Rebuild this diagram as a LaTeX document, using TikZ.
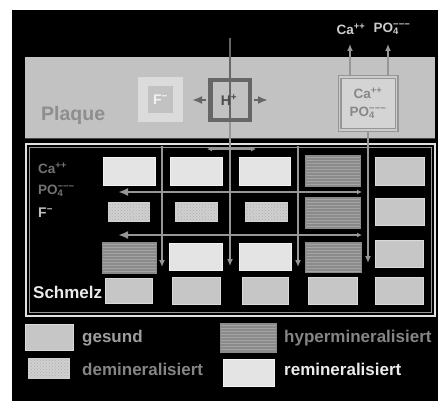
\documentclass[tikz,border=0pt]{standalone}
\usepackage{fontspec}
\setmainfont{Liberation Sans}
\usetikzlibrary{patterns,arrows.meta}
\definecolor{cP}{HTML}{C2C2C2}
\definecolor{cG}{HTML}{C6C6C6}
\definecolor{cGe}{HTML}{DADADA}
\definecolor{cR}{HTML}{E4E4E4}
\definecolor{cRe}{HTML}{F2F2F2}
\definecolor{cH}{HTML}{8A8A8A}
\definecolor{cHl}{HTML}{A4A4A4}
\definecolor{cD}{HTML}{D0D0D0}
\definecolor{cDl}{HTML}{ADADAD}
\definecolor{cL}{HTML}{969696}
\definecolor{cDk}{HTML}{666666}
\definecolor{cTx}{HTML}{888888}
\tikzset{
  blk/.style={inner sep=0pt, line width=0.9pt},
  gesund/.style={blk, fill=cG, draw=cGe},
  remin/.style={blk, fill=cR, draw=cRe},
  hyper/.style={blk, draw=cH, preaction={fill=cH}, pattern=horizontal lines, pattern color=cHl},
  demin/.style={blk, draw=cD, preaction={fill=cD}, pattern=crosshatch dots, pattern color=cDl},
  gline/.style={draw=cL, line width=2.6pt},
  downtip/.style={-{Latex[length=7pt,width=6pt]}},
  lefttip/.style={{Latex[length=10pt,width=8pt]}-{Latex[length=5pt,width=5pt]}},
  lbl/.style={font=\bfseries\fontsize{17}{17}\selectfont, inner sep=0pt, anchor=west},
  ion/.style={font=\bfseries\fontsize{13.5}{14}\selectfont, inner sep=0pt},
}
\begin{document}
\begin{tikzpicture}[x=1pt,y=-1pt]
\useasboundingbox (0,0) rectangle (438,401);
\fill[white] (0,0) rectangle (438,401);
\fill[black] (12,10) rectangle (438,401);

% Plaque
\fill[cP] (25,57) rectangle (435,138);
\draw[cDk!70!black, line width=1pt] (25,138) -- (435,138);
\node[font=\bfseries\fontsize{19.5}{19.5}\selectfont, text=cTx!95!white, inner sep=0pt, anchor=west] (plaquelbl) at (41,115) {Plaque};

% Schmelz frame
\draw[white!88!black, line width=2.2pt] (26,144) rectangle (435,316);
\draw[cL, line width=0.8pt] (29.5,147.5) rectangle (431.5,312.5);

% F- box
\node[fill=white!86!black, minimum size=45pt, inner sep=0pt] (fbox) at (160.5,99.5) {};
\node[fill=white!76!black, minimum width=25pt, minimum height=26pt, inner sep=0pt, text=white!95!black, font=\bfseries\fontsize{14}{14}\selectfont] (finner) at (160.5,99.5) {F\textsuperscript{−}};

% H+ box
\node[draw=cDk, line width=4.5pt, fill=white!76!black, minimum size=39.5pt, inner sep=0pt] (hbox) at (230,100) {};
\coordinate (htop) at (230,38);
\coordinate (hbot) at (230,266);
\draw[cDk, line width=2.2pt] (htop) -- (hbox.north);
\coordinate (hl) at (192,100);
\coordinate (hr) at (268,100);
\draw[cDk, line width=2.6pt, -{Latex[length=10pt,width=8pt]}] ([xshift=-2pt]hbox.west) -- (hl);
\draw[cDk, line width=2.6pt, -{Latex[length=10pt,width=8pt]}] ([xshift=2pt]hbox.east) -- (hr);

% Right box
\node[draw=cL, double=white!80!black, double distance=1.6pt, line width=1.2pt, fill=white!83!black, minimum width=57pt, minimum height=53pt, inner sep=0pt, align=center, text=cTx, font=\bfseries\fontsize{13.5}{18}\selectfont] (rbox) at (368,103.5) {Ca\textsuperscript{++}\\PO\rlap{\textsubscript{4}}\textsuperscript{−−−}};
\coordinate (ca1) at (350,44);
\coordinate (po1) at (388,44);
\draw[gline, line width=1.8pt, -{Latex[length=7pt,width=6pt]}] (rbox.north -| ca1) -- (ca1);
\draw[gline, line width=1.8pt, -{Latex[length=7pt,width=6pt]}] (rbox.north -| po1) -- (po1);
\node[ion, text=white!80!black] (catop) at (351,29) {Ca\textsuperscript{++}};
\node[ion, text=white!80!black] (potop) at (392,29) {PO\rlap{\textsubscript{4}}\textsuperscript{−−−}};

% Grid lines in Schmelz
\coordinate (v1t) at (162,146); \coordinate (v1b) at (162,267);
\coordinate (v3t) at (298,146); \coordinate (v3b) at (298,267);
\coordinate (v4b) at (368,263);
\draw[gline, downtip] (v1t) -- (v1b);
\draw[gline, downtip] (v3t) -- (v3b);
\draw[gline, downtip] (rbox.south) -- (v4b);
\draw[gline, downtip] (hbox.south) -- (hbot);
\draw[cDk, line width=2.2pt] (hbox.north) -- (hbox.south);
\node[font=\bfseries\fontsize{14}{14}\selectfont, text=white!30!black, inner sep=0pt] (hlbl) at (229,100) {H\textsuperscript{+}};
\coordinate (a1l) at (118,192); \coordinate (a1r) at (362,192);
\coordinate (a2l) at (118,235); \coordinate (a2r) at (362,235);
\draw[gline, lefttip] (a1l) -- (a1r);
\draw[gline, lefttip] (a2l) -- (a2r);
\coordinate (hs) at (230,149);
\coordinate (hsl) at (207,149);
\coordinate (hsr) at (256,149);
\draw[cL, line width=1.4pt, -{Latex[length=5pt,width=5pt]}] (hs) -- (hsl);
\draw[cL, line width=1.4pt, -{Latex[length=5pt,width=5pt]}] (hs) -- (hsr);

% Blocks row 1
\node[remin, minimum width=52pt, minimum height=28pt] (r1c1) at (129,171) {};
\node[remin, minimum width=52pt, minimum height=28pt] (r1c2) at (196,171) {};
\node[remin, minimum width=51pt, minimum height=28pt] (r1c3) at (264.5,171) {};
\node[hyper, minimum width=55pt, minimum height=31pt] (r1c4) at (332.5,171) {};
\node[gesund, minimum width=49pt, minimum height=28pt] (r1c5) at (399.5,171) {};
% row 2
\node[demin, minimum width=41pt, minimum height=19pt] (r2c1) at (128.5,211.5) {};
\node[demin, minimum width=42pt, minimum height=19pt] (r2c2) at (196,211.5) {};
\node[demin, minimum width=42pt, minimum height=19pt] (r2c3) at (266,211.5) {};
\node[hyper, minimum width=55pt, minimum height=31pt] (r2c4) at (332.5,212.5) {};
\node[gesund, minimum width=49pt, minimum height=27pt] (r2c5) at (399.5,211.5) {};
% row 3
\node[hyper, minimum width=54pt, minimum height=31pt] (r3c1) at (129,257.5) {};
\node[remin, minimum width=53pt, minimum height=27pt] (r3c2) at (195.5,256.5) {};
\node[remin, minimum width=52pt, minimum height=27pt] (r3c3) at (265,256.5) {};
\node[hyper, minimum width=56pt, minimum height=30pt] (r3c4) at (333,257) {};
\node[gesund, minimum width=48pt, minimum height=27pt] (r3c5) at (399,253.5) {};
% row 4
\node[gesund, minimum width=47pt, minimum height=25pt] (r4c1) at (128.5,290.5) {};
\node[gesund, minimum width=48pt, minimum height=27pt] (r4c2) at (196,290.5) {};
\node[gesund, minimum width=46pt, minimum height=27pt] (r4c3) at (265,290.5) {};
\node[gesund, minimum width=49pt, minimum height=27pt] (r4c4) at (332.5,290.5) {};
\node[gesund, minimum width=48pt, minimum height=27pt] (r4c5) at (399,290.5) {};

% Schmelz labels
\node[ion, anchor=west, text=white!45!black] (caL) at (38,168) {Ca\textsuperscript{++}};
\node[ion, anchor=west, text=white!45!black] (poL) at (38,191) {PO\rlap{\textsubscript{4}}\textsuperscript{−−−}};
\node[ion, anchor=west, text=white!75!black, font=\bfseries\fontsize{14}{14}\selectfont] (fL) at (38,213) {F\textsuperscript{−}};
\node[lbl, text=white!92!black] (schmelz) at (33,292) {Schmelz};

% Legend
\node[gesund, minimum width=48pt, minimum height=26pt] (lg) at (49,337) {};
\node[demin, minimum width=41pt, minimum height=20pt] (ld) at (48.5,368) {};
\node[hyper, minimum width=56pt, minimum height=29pt] (lh) at (248,338) {};
\node[remin, minimum width=51pt, minimum height=27pt] (lr) at (248.5,372.5) {};
\node[lbl, text=white!62!black] (tg) at (82,338) {gesund};
\node[lbl, text=white!52!black] (td) at (82,369) {demineralisiert};
\node[lbl, text=white!52!black] (th) at (284,338) {hypermineralisiert};
\node[lbl, text=white!92!black] (tr) at (284,369) {remineralisiert};
\end{tikzpicture}
\end{document}
